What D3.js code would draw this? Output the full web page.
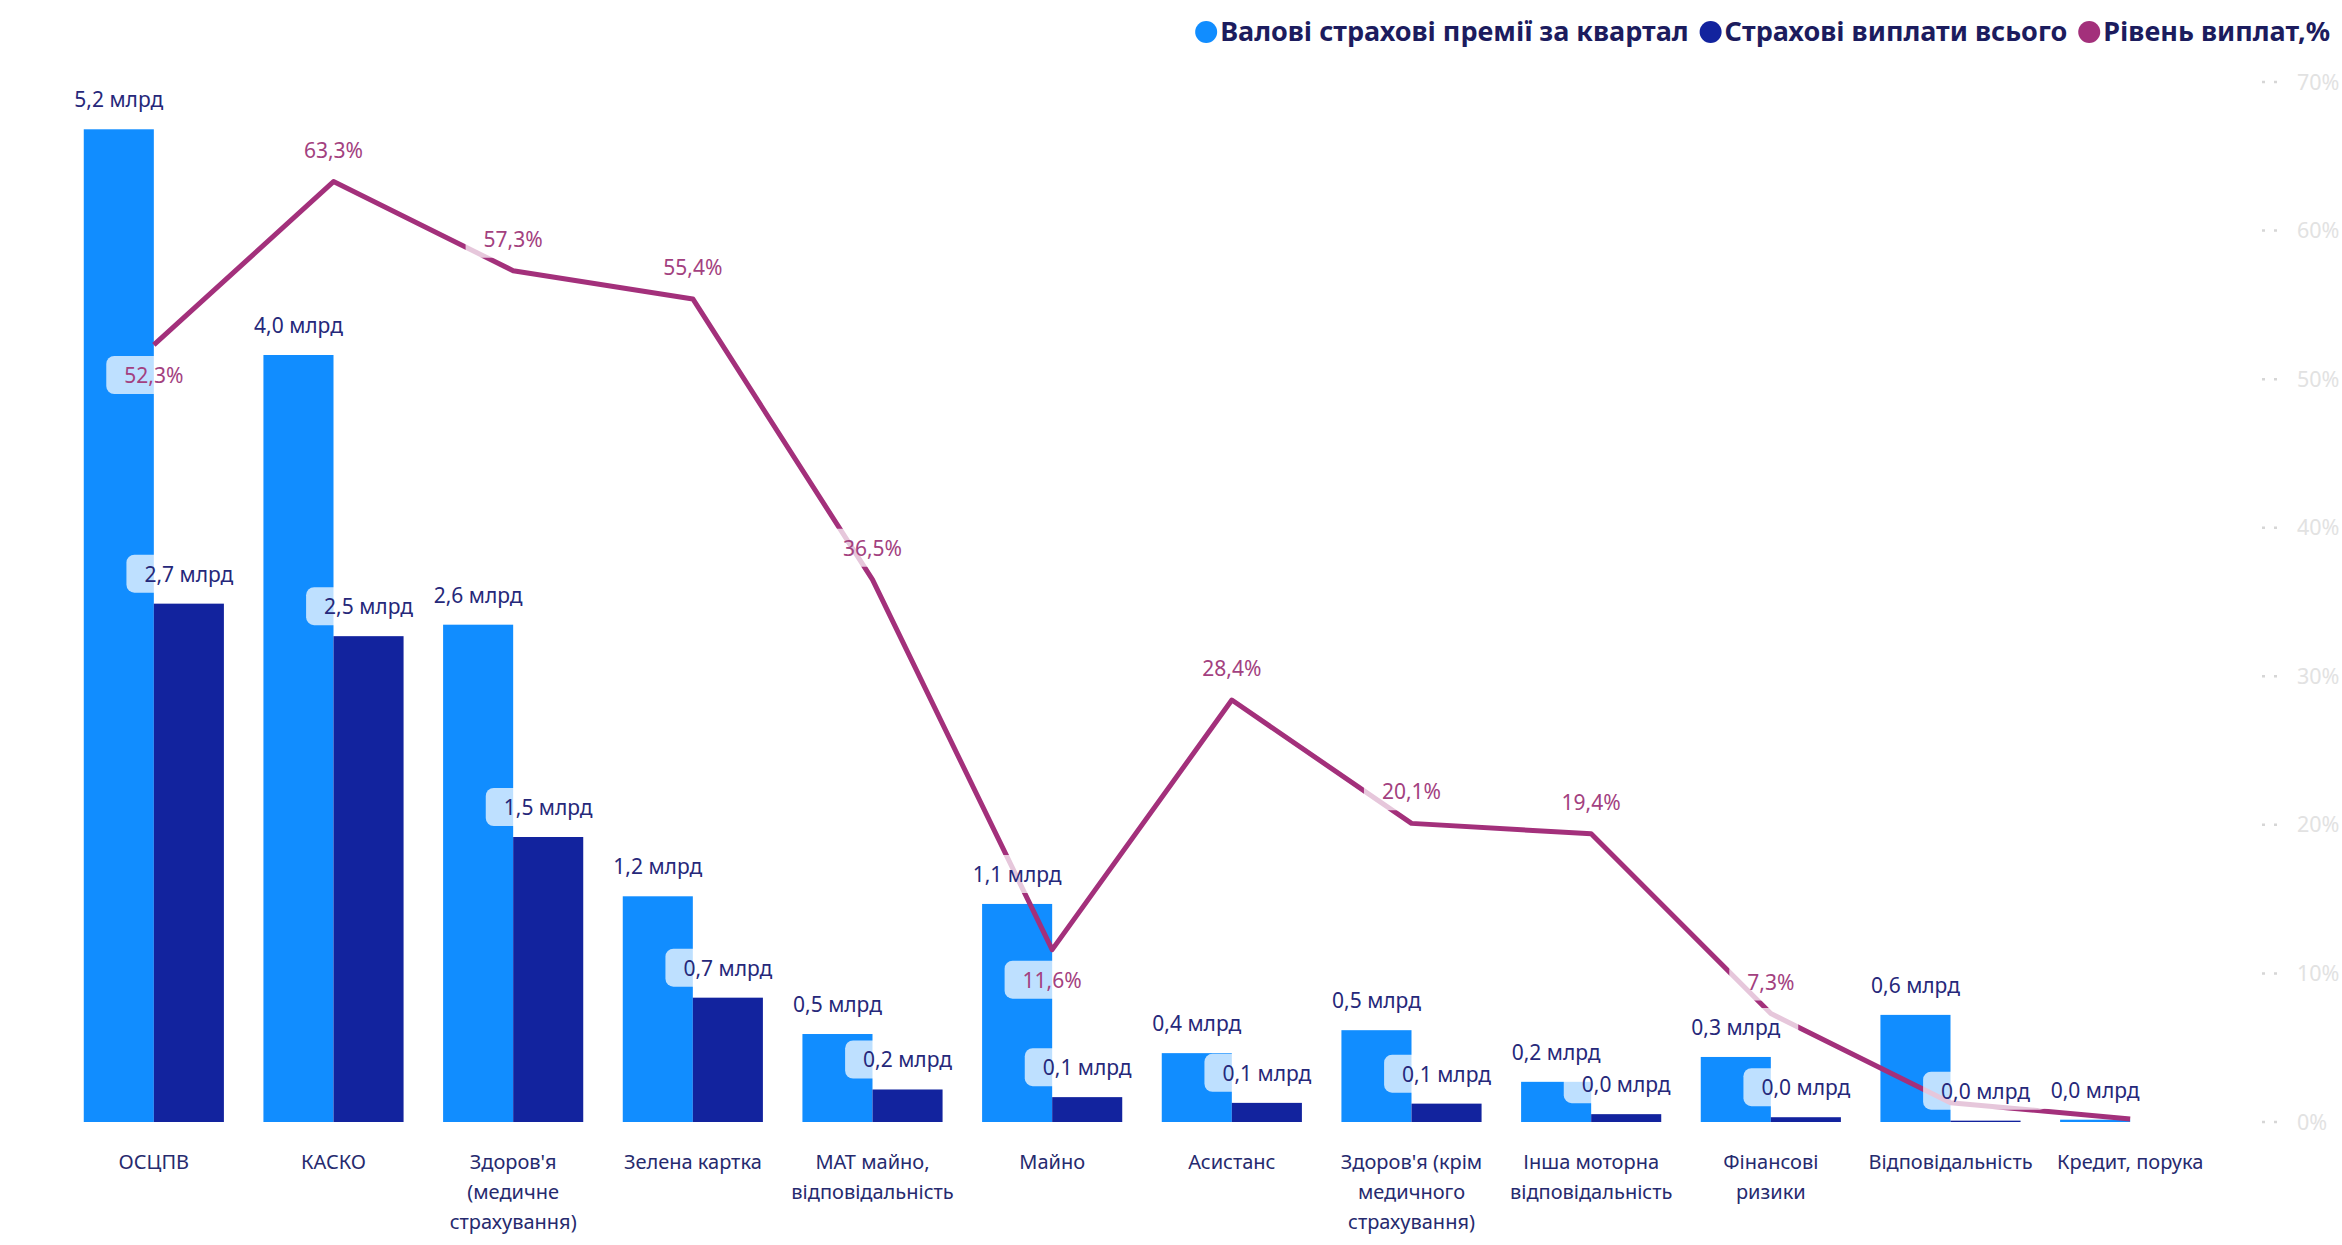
<!DOCTYPE html>
<html lang="uk">
<head>
<meta charset="utf-8">
<style>
body { margin: 0; background: #fff; }
svg { display: block; font-family: "Noto Sans", "Open Sans", sans-serif; }
.cat { fill: #262a6e; font-size: 20px; }
.val { fill: #26287a; font-size: 21px; }
.pct { fill: #a3417f; font-size: 21px; }
.raxis text { fill: #e2e2e2; font-size: 21.5px; }
.legend text { fill: #1c1c5e; font-size: 27px; font-weight: bold; }
</style>
</head>
<body>
<svg width="2342" height="1245"></svg>
<script src="https://cdnjs.cloudflare.com/ajax/libs/d3/7.8.5/d3.min.js"></script>
<script>
// categories (line breaks as in the original axis)
var categories = [
  "ОСЦПВ", "КАСКО", "Здоров'я\n(медичне\nстрахування)", "Зелена картка",
  "МАТ майно,\nвідповідальність", "Майно", "Асистанс",
  "Здоров'я (крім\nмедичного\nстрахування)", "Інша моторна\nвідповідальність",
  "Фінансові\nризики", "Відповідальність", "Кредит, порука"
];
// gross premiums for the quarter, bn UAH
var premiums = [5.19, 4.01, 2.60, 1.18, 0.46, 1.14, 0.36, 0.48, 0.21, 0.34, 0.56, 0.012];
// claims paid, bn UAH
var claims = [2.71, 2.54, 1.49, 0.65, 0.17, 0.13, 0.10, 0.096, 0.041, 0.025, 0.007, 0.0];
// payout ratio
var payoutRate = [0.523, 0.633, 0.573, 0.554, 0.365, 0.116, 0.284, 0.201, 0.194, 0.073, 0.013, 0.002];
var rateTicks = [0, 0.1, 0.2, 0.3, 0.4, 0.5, 0.6, 0.7];
var seriesNames = ["Валові страхові премії за квартал", "Страхові виплати всього", "Рівень виплат,%"];

var colors = ["#118dff", "#12239e", "#a3307b"];

// label placement tweaks (hidden / below the point), like the original
var rateBelow = new Set([0, 5]);
var rateHidden = new Set([10, 11]);
var claimHidden = new Set([11]);

var svg = d3.select("svg");

var x0 = d3.scaleBand().domain(d3.range(categories.length)).range([64, 2220])
    .paddingInner(0.22).paddingOuter(0.11);
var x1 = d3.scaleBand().domain([0, 1]).range([0, x0.bandwidth()]);
var y = d3.scaleLinear().domain([0, 5.5]).range([1122, 70]);
var yR = d3.scaleLinear().domain([0, 0.7]).range([1122, 82]);

var fmtBn = function(v) { return d3.format(".1f")(v).replace(".", ",") + " млрд"; };
var fmtPct = function(v) { return d3.format(".1f")(v * 100).replace(".", ",") + "%"; };

// right axis
var raxis = svg.append("g").attr("class", "raxis");
raxis.selectAll("line").data(rateTicks).enter().append("line")
    .attr("x1", 2262).attr("x2", 2284)
    .attr("y1", function(d) { return yR(d); }).attr("y2", function(d) { return yR(d); })
    .attr("stroke", "#d6d6d6").attr("stroke-width", 2.5)
    .attr("stroke-dasharray", "3 9");
raxis.selectAll("text").data(rateTicks).enter().append("text")
    .attr("x", 2297)
    .attr("y", function(d) { return yR(d); })
    .attr("dy", "0.35em")
    .text(function(d) { return Math.round(d * 100) + "%"; });

// bars
var groups = svg.append("g").selectAll("g").data(categories).enter().append("g")
    .attr("transform", function(d, i) { return "translate(" + x0(i) + ",0)"; });

groups.append("rect")
    .attr("x", x1(0)).attr("width", x1.bandwidth())
    .attr("y", function(d, i) { return y(premiums[i]); })
    .attr("height", function(d, i) { return y(0) - y(premiums[i]); })
    .attr("fill", colors[0]);

groups.append("rect")
    .attr("x", x1(1)).attr("width", x1.bandwidth())
    .attr("y", function(d, i) { return y(claims[i]); })
    .attr("height", function(d, i) { return y(0) - y(claims[i]); })
    .attr("fill", colors[1]);

// category labels
groups.append("text")
    .attr("class", "cat")
    .attr("text-anchor", "middle")
    .attr("transform", "translate(" + (x0.bandwidth() / 2) + ",1169)")
    .selectAll("tspan")
    .data(function(d) { return d.split("\n"); })
    .enter().append("tspan")
    .attr("x", 0)
    .attr("y", function(d, j) { return j * 30; })
    .text(function(d) { return d; });

// payout line
var cx = function(i) { return x0(i) + x0.bandwidth() / 2; };
svg.append("path")
    .datum(payoutRate)
    .attr("fill", "none")
    .attr("stroke", colors[2])
    .attr("stroke-width", 5)
    .attr("stroke-linejoin", "round")
    .attr("d", d3.line()
        .x(function(d, i) { return cx(i); })
        .y(function(d) { return yR(d); }));

// data labels with translucent background
var labels = [];
premiums.forEach(function(v, i) {
  labels.push({ x: x0(i) + x1(0) + x1.bandwidth() / 2, y: y(v) - 22, text: fmtBn(v), cls: "val" });
});
claims.forEach(function(v, i) {
  if (claimHidden.has(i)) return;
  labels.push({ x: x0(i) + x1(1) + x1.bandwidth() / 2, y: y(v) - 22, text: fmtBn(v), cls: "val" });
});
payoutRate.forEach(function(v, i) {
  if (rateHidden.has(i)) return;
  labels.push({ x: cx(i), y: rateBelow.has(i) ? yR(v) + 38 : yR(v) - 24, text: fmtPct(v), cls: "pct" });
});

var lab = svg.append("g").selectAll("g").data(labels).enter().append("g");
var bg = lab.append("rect")
    .attr("fill", "#fff").attr("fill-opacity", 0.73)
    .attr("rx", 8);
lab.append("text")
    .attr("class", function(d) { return d.cls; })
    .attr("x", function(d) { return d.x; })
    .attr("y", function(d) { return d.y; })
    .attr("text-anchor", "middle")
    .text(function(d) { return d.text; })
    .each(function(d) { d.w = this.getComputedTextLength(); });
bg.attr("x", function(d) { return d.x - d.w / 2 - 18; })
    .attr("width", function(d) { return d.w + 36; })
    .attr("y", function(d) { return d.y - 27; })
    .attr("height", 38);

// legend, right aligned
var legend = svg.append("g").attr("class", "legend");
var items = legend.selectAll("g").data(seriesNames).enter().append("g");
items.append("circle").attr("r", 11).attr("cy", 32)
    .attr("fill", function(d, i) { return colors[i]; });
items.append("text").attr("y", 32).attr("dy", "0.35em")
    .text(function(d) { return d; });
var pos = 2330;
var nodes = items.nodes();
for (var k = nodes.length - 1; k >= 0; k--) {
  var g = d3.select(nodes[k]);
  var w = g.select("text").node().getComputedTextLength();
  g.select("text").attr("x", pos - w);
  g.select("circle").attr("cx", pos - w - 14);
  pos = pos - w - 25 - 11;
}
</script>
</body>
</html>
